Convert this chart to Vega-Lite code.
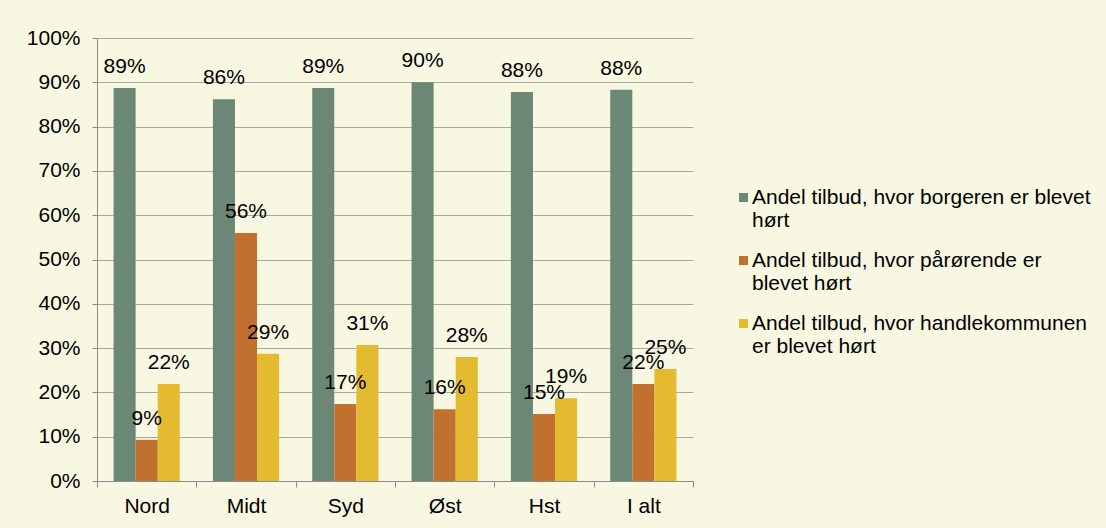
{
  "$schema": "https://vega.github.io/schema/vega-lite/v6.json",
  "width": 596,
  "height": 443,
  "autosize": {"type": "none"},
  "padding": {"left": 97, "top": 38, "right": 413, "bottom": 47},
  "background": "#f8f8e2",
  "config": {
    "font": "Liberation Sans",
    "view": {"stroke": null},
    "axis": {"labelFont": "Liberation Sans", "labelColor": "#000000", "labelFontSize": 21, "title": null}
  },
  "data": {
    "values": [
      {"region": "Nord", "serie": "Andel tilbud, hvor borgeren er blevet hørt", "andel": 0.887},
      {"region": "Nord", "serie": "Andel tilbud, hvor pårørende er blevet hørt", "andel": 0.093},
      {"region": "Nord", "serie": "Andel tilbud, hvor handlekommunen er blevet hørt", "andel": 0.219},
      {"region": "Midt", "serie": "Andel tilbud, hvor borgeren er blevet hørt", "andel": 0.862},
      {"region": "Midt", "serie": "Andel tilbud, hvor pårørende er blevet hørt", "andel": 0.56},
      {"region": "Midt", "serie": "Andel tilbud, hvor handlekommunen er blevet hørt", "andel": 0.287},
      {"region": "Syd", "serie": "Andel tilbud, hvor borgeren er blevet hørt", "andel": 0.887},
      {"region": "Syd", "serie": "Andel tilbud, hvor pårørende er blevet hørt", "andel": 0.174},
      {"region": "Syd", "serie": "Andel tilbud, hvor handlekommunen er blevet hørt", "andel": 0.307},
      {"region": "Øst", "serie": "Andel tilbud, hvor borgeren er blevet hørt", "andel": 0.9},
      {"region": "Øst", "serie": "Andel tilbud, hvor pårørende er blevet hørt", "andel": 0.162},
      {"region": "Øst", "serie": "Andel tilbud, hvor handlekommunen er blevet hørt", "andel": 0.28},
      {"region": "Hst", "serie": "Andel tilbud, hvor borgeren er blevet hørt", "andel": 0.878},
      {"region": "Hst", "serie": "Andel tilbud, hvor pårørende er blevet hørt", "andel": 0.151},
      {"region": "Hst", "serie": "Andel tilbud, hvor handlekommunen er blevet hørt", "andel": 0.187},
      {"region": "I alt", "serie": "Andel tilbud, hvor borgeren er blevet hørt", "andel": 0.883},
      {"region": "I alt", "serie": "Andel tilbud, hvor pårørende er blevet hørt", "andel": 0.219},
      {"region": "I alt", "serie": "Andel tilbud, hvor handlekommunen er blevet hørt", "andel": 0.253}
    ]
  },
  "encoding": {
    "x": {
      "field": "region", "type": "nominal",
      "sort": ["Nord", "Midt", "Syd", "Øst", "Hst", "I alt"],
      "scale": {"paddingInner": 0, "paddingOuter": 0},
      "axis": {"labelAngle": 0, "tickBand": "extent", "domainColor": "#8c8c8c", "tickColor": "#8c8c8c", "tickSize": 6, "labelPadding": 8, "grid": false}
    },
    "xOffset": {
      "field": "serie", "type": "nominal",
      "sort": ["Andel tilbud, hvor borgeren er blevet hørt", "Andel tilbud, hvor pårørende er blevet hørt", "Andel tilbud, hvor handlekommunen er blevet hørt"],
      "scale": {"paddingInner": 0, "paddingOuter": 0.75}
    },
    "y": {
      "field": "andel", "type": "quantitative",
      "scale": {"domain": [0, 1], "nice": false},
      "axis": {"values": [0, 0.1, 0.2, 0.3, 0.4, 0.5, 0.6, 0.7, 0.8, 0.9, 1], "format": ".0%", "grid": true, "gridColor": "#a8a8a0", "domainColor": "#8c8c8c", "tickColor": "#8c8c8c", "tickSize": 5, "labelPadding": 12}
    }
  },
  "layer": [
    {
      "mark": {"type": "bar"},
      "encoding": {
        "color": {
          "field": "serie", "type": "nominal",
          "scale": {
            "domain": ["Andel tilbud, hvor borgeren er blevet hørt", "Andel tilbud, hvor pårørende er blevet hørt", "Andel tilbud, hvor handlekommunen er blevet hørt"],
            "range": ["#6b8877", "#c0702f", "#e3ba30"]
          },
          "legend": {
            "title": null,
            "orient": "none",
            "legendX": 636,
            "legendY": 149,
            "labelFont": "Liberation Sans",
            "labelFontSize": 21,
            "labelColor": "#000000",
            "labelLimit": 400,
            "labelBaseline": "top",
            "labelOffset": -2,
            "symbolType": "square",
            "symbolSize": 81,
            "symbolStrokeWidth": 0,
            "rowPadding": 18,
            "encode": {"labels": {"update": {"dy": {"value": -11}, "lineHeight": {"value": 23}}}},
            "labelExpr": "datum.label == 'Andel tilbud, hvor borgeren er blevet hørt' ? ['Andel tilbud, hvor borgeren er blevet', 'hørt'] : datum.label == 'Andel tilbud, hvor pårørende er blevet hørt' ? ['Andel tilbud, hvor pårørende er', 'blevet hørt'] : ['Andel tilbud, hvor handlekommunen', 'er blevet hørt']"
          }
        }
      }
    },
    {
      "mark": {"type": "text", "baseline": "alphabetic", "dy": -15, "fontSize": 21, "color": "#000000", "font": "Liberation Sans"},
      "encoding": {
        "text": {"field": "andel", "type": "quantitative", "format": ".0%"}
      }
    }
  ]
}
